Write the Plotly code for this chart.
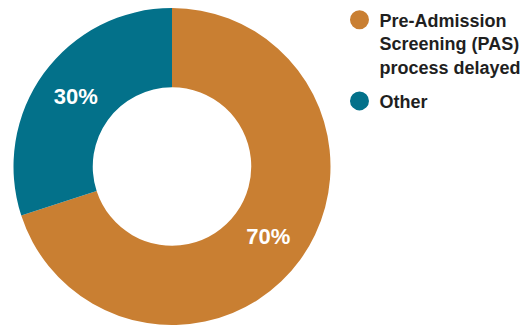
import plotly.graph_objects as go

categories = ["Pre-Admission<br>Screening (PAS)<br>process delayed", "Other"]
values = [70, 30]
colors = ["#C97F32", "#03718A"]

fig = go.Figure()

fig.add_trace(go.Pie(
    labels=categories,
    values=values,
    hole=0.5,
    sort=False,
    direction="clockwise",
    rotation=0,
    marker=dict(colors=colors, line=dict(width=0)),
    textinfo="percent",
    textposition="inside",
    insidetextorientation="horizontal",
    textfont=dict(family="Liberation Sans, Arial, sans-serif", size=22, color="white", weight="bold"),
    showlegend=False,
    hoverinfo="skip",
    domain=dict(x=[0, 318 / 517], y=[0, 1]),
))

for i, (name, col) in enumerate(zip(categories, colors)):
    fig.add_trace(go.Scatter(
        x=[None], y=[None], mode="markers", name=name,
        legendgroup=f"g{i}",
        marker=dict(symbol="circle", size=15, color=col, line=dict(color=col, width=4)),
        hoverinfo="skip",
    ))

fig.update_layout(
    width=530, height=325,
    margin=dict(l=13, r=0, t=8, b=0),
    paper_bgcolor="white",
    plot_bgcolor="white",
    xaxis=dict(visible=False),
    yaxis=dict(visible=False),
    legend=dict(
        x=0.6315, xanchor="left", y=1.0205, yanchor="top",
        valign="top",
        font=dict(family="Liberation Sans, Arial, sans-serif", size=18, color="#1f1f1f", weight="bold"),
        bgcolor="rgba(0,0,0,0)",
        tracegroupgap=8,
    ),
)

fig.write_html("out.html", config={"displayModeBar": False},
               post_script="document.body.style.margin='0';")
